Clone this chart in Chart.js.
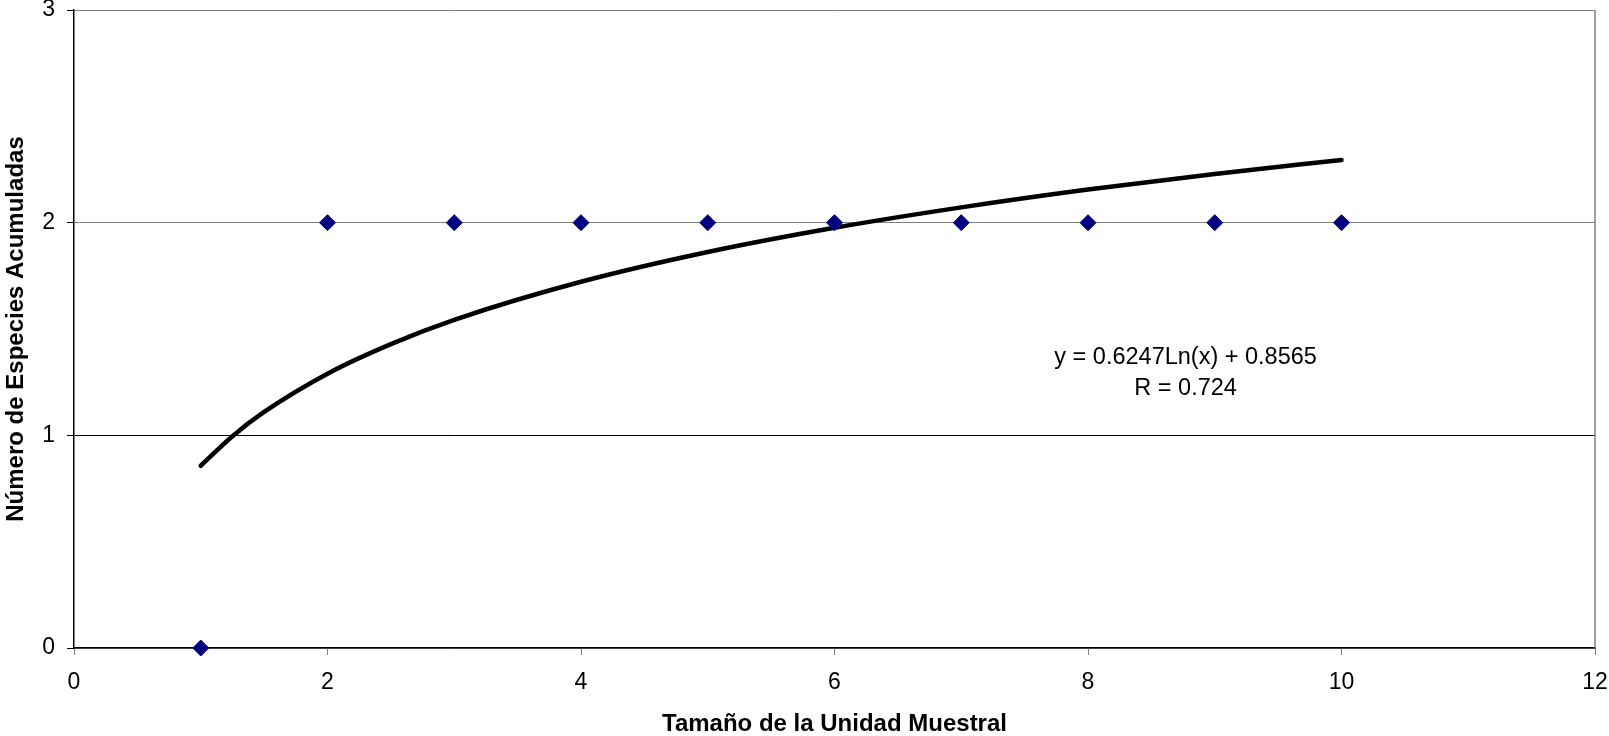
<!DOCTYPE html>
<html>
<head>
<meta charset="utf-8">
<title>Número de Especies Acumuladas</title>
<script src="https://cdn.jsdelivr.net/npm/chart.js@4/dist/chart.umd.min.js"></script>
<style>
  html, body { margin: 0; padding: 0; background: #fff; }
  canvas { display: block; }
</style>
</head>
<body>
<canvas id="curva" width="1609" height="736"></canvas>
<script>
// datos
const unidad = [1, 2, 3, 4, 5, 6, 7, 8, 9, 10];
const especies = [0, 2, 2, 2, 2, 2, 2, 2, 2, 2];

// curva de tendencia (logaritmica)
const trendX = [1, 1.25, 1.5, 2, 2.5, 3, 4, 5, 6, 7, 8, 9, 10];
const trendY = [0.857, 0.996, 1.110, 1.290, 1.429, 1.543, 1.722, 1.862, 1.976, 2.072, 2.156, 2.229, 2.295];

const ecuacion = ['y = 0.6247Ln(x) + 0.8565', 'R = 0.724'];
const ecuacionPos = [8.77, 1.295];

const FONT = '"Liberation Sans", Arial, sans-serif';

// quitar el relleno que chart.js deja para las etiquetas extremas
function sinRelleno(scale) {
  scale.paddingLeft = 0;
  scale.paddingRight = 0;
  scale.paddingTop = 0;
  scale.paddingBottom = 0;
}

// etiqueta de la ecuacion y borde derecho del area
const extras = {
  id: 'extras',
  afterDatasetsDraw(chart) {
    const {ctx, chartArea, scales} = chart;
    ctx.save();
    ctx.strokeStyle = '#808080';
    ctx.lineWidth = 1.5;
    ctx.beginPath();
    ctx.moveTo(chartArea.right, chartArea.top);
    ctx.lineTo(chartArea.right, chartArea.bottom);
    ctx.stroke();

    const cx = scales.x.getPixelForValue(ecuacionPos[0]);
    const cy = scales.y.getPixelForValue(ecuacionPos[1]);
    ctx.font = `23.5px ${FONT}`;
    ctx.fillStyle = '#000';
    ctx.textAlign = 'center';
    ctx.textBaseline = 'middle';
    ctx.fillText(ecuacion[0], cx, cy - 15.5);
    ctx.fillText(ecuacion[1], cx, cy + 15.5);
    ctx.restore();
  }
};

const ctx = document.getElementById('curva');

new Chart(ctx, {
  type: 'scatter',
  data: {
    datasets: [
      {
        label: 'Especies',
        data: unidad.map((u, i) => ({x: u, y: especies[i]})),
        pointStyle: 'rectRot',
        pointRadius: 8,
        pointBackgroundColor: '#000080',
        pointBorderColor: '#000080',
        pointBorderWidth: 1,
        clip: false,
        order: 1
      },
      {
        label: 'Tendencia',
        type: 'line',
        data: trendX.map((u, i) => ({x: u, y: trendY[i]})),
        borderColor: '#000',
        borderWidth: 4.5,
        borderCapStyle: 'round',
        pointRadius: 0,
        cubicInterpolationMode: 'monotone',
        fill: false,
        order: 2
      }
    ]
  },
  options: {
    responsive: false,
    animation: false,
    events: [],
    layout: { padding: { top: 10, right: 14, left: 0, bottom: 0 } },
    plugins: {
      legend: { display: false },
      tooltip: { enabled: false }
    },
    scales: {
      x: {
        type: 'linear',
        min: 0,
        max: 12,
        ticks: {
          stepSize: 2,
          padding: 14,
          color: '#000',
          font: { family: FONT, size: 23 }
        },
        grid: {
          drawOnChartArea: false,
          drawTicks: true,
          tickLength: 7,
          tickColor: '#808080'
        },
        border: { display: true, color: '#000', width: 1.5 },
        title: {
          display: true,
          text: 'Tamaño de la Unidad Muestral',
          color: '#000',
          font: { family: FONT, size: 24, weight: 'bold', lineHeight: 1 },
          padding: { top: 0, bottom: 0 }
        },
        afterFit(scale) {
          scale.height = 88;
          sinRelleno(scale);
        }
      },
      y: {
        min: 0,
        max: 3,
        ticks: {
          stepSize: 1,
          padding: 12,
          color: '#000',
          font: { family: FONT, size: 23 }
        },
        grid: {
          color: c => (c.tick && c.tick.value === 1) ? '#000' : '#808080',
          tickLength: 7,
          tickColor: '#000'
        },
        border: { display: true, color: '#000', width: 1.5 },
        title: {
          display: true,
          text: 'Número de Especies Acumuladas',
          color: '#000',
          font: { family: FONT, size: 24, weight: 'bold' },
          padding: { top: 2, bottom: 0 }
        },
        afterFit(scale) {
          scale.width = 74;
          sinRelleno(scale);
        }
      }
    }
  },
  plugins: [extras]
});
</script>
</body>
</html>
